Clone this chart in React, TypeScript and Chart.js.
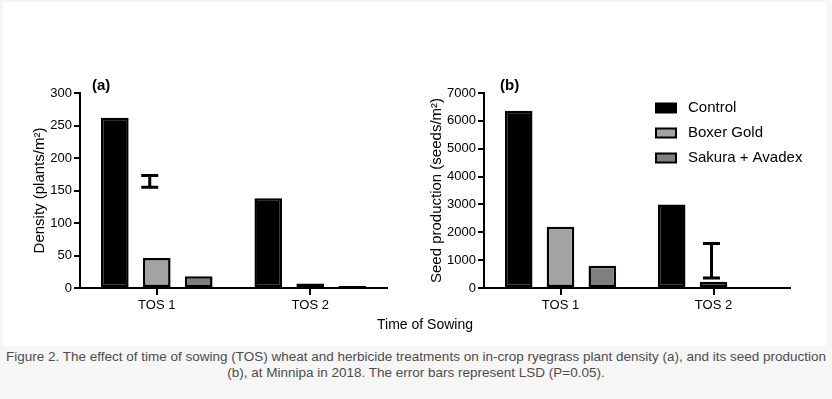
import React, { useEffect, useRef } from "react";
import { Chart, registerables } from "chart.js";

Chart.register(...registerables);

// ---- data ----
const categories = ["TOS 1", "TOS 2"];
const seriesNames = ["Control", "Boxer Gold", "Sakura + Avadex"];
const seriesColors = ["#000000", "#a3a3a3", "#7f7f7f"];

const densityControl = [262, 138];
const densityBoxerGold = [46, 7];
const densitySakuraAvadex = [18, 3];
const densityLsdRange = [155, 173]; // LSD bar (low, high)
const densityLsdCategory = 0;
const densityTicks = { min: 0, max: 300, step: 50 };

const seedControl = [6360, 3000];
const seedBoxerGold = [2200, 220];
const seedSakuraAvadex = [800, 30];
const seedLsdRange = [360, 1600];
const seedLsdCategory = 1;
const seedTicks = { min: 0, max: 7000, step: 1000 };

const FONT = "'Liberation Sans', Arial, Helvetica, sans-serif";

const errorBarPlugin = {
  id: "lsdBar",
  afterDatasetsDraw(chart: any, _args: any, opts: any) {
    if (!opts || !opts.range) return;
    const meta = chart.getDatasetMeta(1);
    const bar = meta.data[opts.category];
    if (!bar) return;
    const y = chart.scales.y;
    const x = bar.x + (opts.dx || 0);
    const y1 = y.getPixelForValue(opts.range[0]);
    const y2 = y.getPixelForValue(opts.range[1]);
    const ctx = chart.ctx;
    ctx.save();
    ctx.strokeStyle = "#000";
    ctx.lineWidth = 3;
    ctx.beginPath();
    ctx.moveTo(x, y1);
    ctx.lineTo(x, y2);
    ctx.moveTo(x - opts.cap / 2, y1);
    ctx.lineTo(x + opts.cap / 2, y1);
    ctx.moveTo(x - opts.cap / 2, y2);
    ctx.lineTo(x + opts.cap / 2, y2);
    ctx.stroke();
    ctx.restore();
  },
};

const panelLabelPlugin = {
  id: "panelLabel",
  afterDraw(chart: any, _args: any, opts: any) {
    if (!opts || !opts.text) return;
    const { ctx, chartArea } = chart;
    ctx.save();
    ctx.font = `bold 15px ${FONT}`;
    ctx.fillStyle = "#000";
    ctx.textBaseline = "middle";
    ctx.textAlign = "left";
    ctx.fillText(opts.text, chartArea.left + opts.dx, chartArea.top - 7);
    ctx.restore();
  },
};

const boxLegendPlugin = {
  id: "boxLegend",
  afterDraw(chart: any, _args: any, opts: any) {
    if (!opts || !opts.show) return;
    const { ctx, chartArea } = chart;
    ctx.save();
    ctx.font = `15px ${FONT}`;
    ctx.textBaseline = "middle";
    ctx.textAlign = "left";
    chart.data.datasets.forEach((ds: any, i: number) => {
      const cy = chartArea.top + 15 + i * 25;
      const bx = chartArea.left + 172;
      ctx.fillStyle = ds.backgroundColor;
      ctx.fillRect(bx, cy - 4.5, 20, 9);
      ctx.strokeStyle = "#000";
      ctx.lineWidth = 2;
      ctx.strokeRect(bx, cy - 4.5, 20, 9);
      ctx.fillStyle = "#000";
      ctx.fillText(ds.label, chartArea.left + 204, cy);
    });
    ctx.restore();
  },
};

function makeConfig(p: any) {
  const datasets = p.series.map((vals: number[], i: number) => ({
    label: seriesNames[i],
    data: vals,
    backgroundColor: seriesColors[i],
    borderColor: "#000",
    borderWidth: 2.5,
    borderSkipped: false,
    categoryPercentage: 0.82,
    barPercentage: 0.66,
  }));
  return {
    type: "bar",
    data: { labels: categories, datasets },
    plugins: [errorBarPlugin, panelLabelPlugin, boxLegendPlugin],
    options: {
      animation: false,
      responsive: false,
      devicePixelRatio: 1,
      layout: { padding: { top: 33, right: p.padRight, left: 0, bottom: 0 } },
      plugins: {
        legend: { display: false },
        tooltip: { enabled: false },
        lsdBar: { range: p.lsd, category: p.lsdCategory, cap: 17, dx: p.lsdDx },
        panelLabel: { text: p.panel, dx: p.panelDx },
        boxLegend: { show: p.legend },
      },
      scales: {
        x: {
          offset: true,
          afterFit: (s: any) => {
            s.height = 42;
          },
          grid: {
            offset: false,
            drawOnChartArea: false,
            drawTicks: true,
            tickLength: 7,
            color: "#000",
            lineWidth: 2,
          },
          border: { color: "#000", width: 2 },
          ticks: { color: "#000", font: { family: FONT, size: 13 }, padding: 3 },
        },
        y: {
          min: p.ticks.min,
          max: p.ticks.max,
          afterFit: (s: any) => {
            s.width = p.yWidth;
          },
          grid: {
            drawOnChartArea: false,
            drawTicks: true,
            tickLength: 6,
            color: "#000",
            lineWidth: 2,
          },
          border: { color: "#000", width: 2 },
          ticks: {
            stepSize: p.ticks.step,
            color: "#000",
            font: { family: FONT, size: 13 },
            padding: 2,
            callback: (v: any) => String(v),
          },
          title: {
            display: true,
            text: p.yTitle,
            color: "#000",
            font: { family: FONT, size: 15 },
            padding: { top: p.titlePad, bottom: 0 },
          },
        },
      },
    },
  };
}

function BarPanel(props: any) {
  const ref = useRef<HTMLCanvasElement | null>(null);
  useEffect(() => {
    if (!ref.current) return;
    const chart = new Chart(ref.current, makeConfig(props.cfg) as any);
    return () => chart.destroy();
  }, []);
  return (
    <canvas
      ref={ref}
      width={props.width}
      height={270}
      style={{ position: "absolute", left: props.left, top: 60, width: props.width, height: 270 }}
    />
  );
}

export default function App() {
  const cfgA = {
    series: [densityControl, densityBoxerGold, densitySakuraAvadex],
    lsd: densityLsdRange,
    lsdCategory: densityLsdCategory,
    lsdDx: -7,
    ticks: densityTicks,
    yTitle: "Density (plants/m²)",
    yWidth: 80,
    titlePad: 31,
    padRight: 23,
    panel: "(a)",
    panelDx: 12,
    legend: false,
  };
  const cfgB = {
    series: [seedControl, seedBoxerGold, seedSakuraAvadex],
    lsd: seedLsdRange,
    lsdCategory: seedLsdCategory,
    lsdDx: -2,
    ticks: seedTicks,
    yTitle: "Seed production (seeds/m²)",
    yWidth: 74,
    titlePad: 18,
    padRight: 42,
    panel: "(b)",
    panelDx: 16,
    legend: true,
  };
  return (
    <div
      style={{
        position: "absolute",
        left: 0,
        top: 0,
        width: 832,
        height: 399,
        background: "#f6f6f6",
        overflow: "hidden",
        fontFamily: FONT,
      }}
    >
      <div
        style={{
          position: "absolute",
          left: 3,
          top: 2,
          width: 823,
          height: 344,
          background: "#ffffff",
        }}
      />
      <BarPanel left={0} width={410} cfg={cfgA} />
      <BarPanel left={410} width={422} cfg={cfgB} />
      <div
        style={{
          position: "absolute",
          left: 325,
          top: 316,
          width: 200,
          textAlign: "center",
          fontSize: 14,
          color: "#000",
        }}
      >
        Time of Sowing
      </div>
      <div
        style={{
          position: "absolute",
          left: 0,
          top: 349,
          width: 832,
          textAlign: "center",
          fontSize: 13.5,
          lineHeight: "16px",
          color: "#4d4d4d",
          whiteSpace: "nowrap",
        }}
      >
        Figure 2. The effect of time of sowing (TOS) wheat and herbicide treatments on in-crop ryegrass plant density (a), and its seed production
        <br />
        (b), at Minnipa in 2018. The error bars represent LSD (P=0.05).
      </div>
    </div>
  );
}
